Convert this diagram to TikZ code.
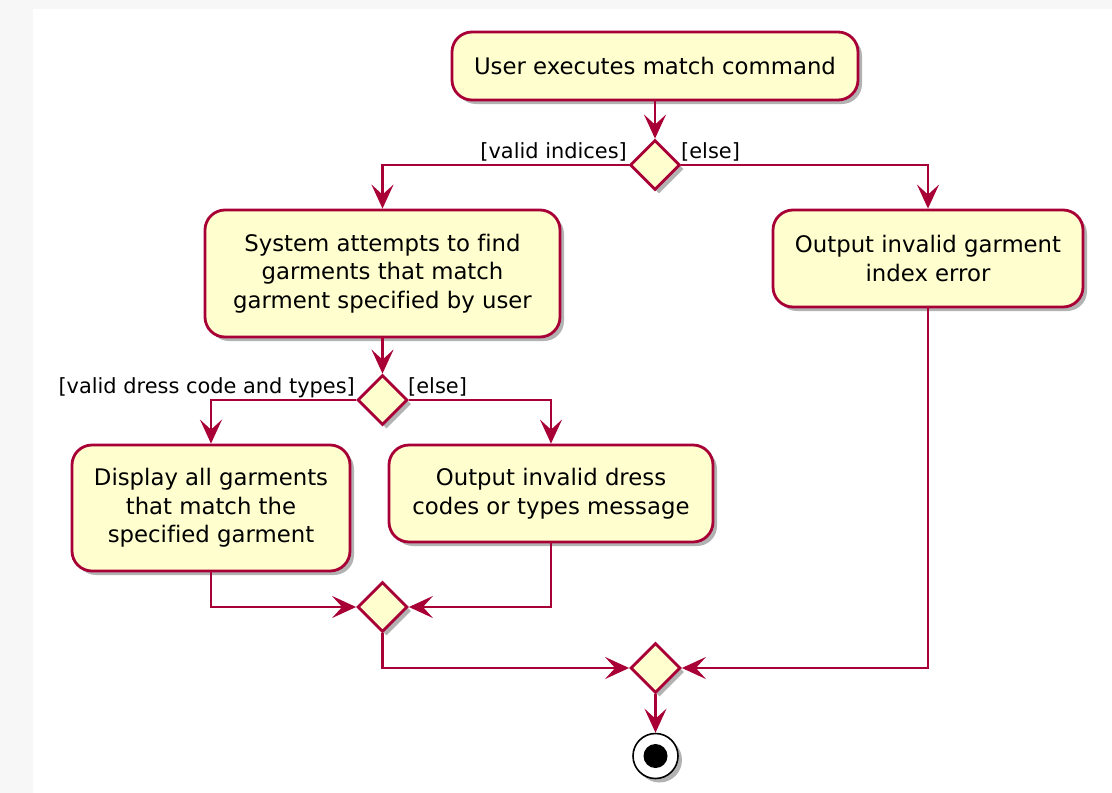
\documentclass[tikz,border=0pt]{standalone}
\usepackage{fontspec}
\setmainfont[Ligatures=NoCommon]{DejaVu Sans}
\usetikzlibrary{shapes.geometric,arrows.meta,shadows}
\definecolor{puborder}{HTML}{A80036}
\definecolor{pufill}{HTML}{FEFECE}
\definecolor{bggray}{RGB}{247,247,247}
\tikzset{
  shad/.style={drop shadow={shadow xshift=4pt,shadow yshift=-4pt,opacity=0.3,fill=black}},
  actbox/.style={draw=puborder,fill=pufill,line width=2.8pt,rounded corners=20pt,
    inner sep=0pt,align=center,font=\fontsize{22.8}{28.5}\selectfont,shad},
  decis/.style={draw=puborder,fill=pufill,line width=2.8pt,shape=diamond,aspect=1,
    inner sep=0pt,minimum width=50pt,minimum height=50pt,shad},
  arr/.style={draw=puborder,line width=2.5pt,-{Stealth[length=24pt,width=22pt,inset=10pt]}},
  lbl/.style={inner sep=0pt,font=\fontsize{20.9}{25}\selectfont}
}
\begin{document}
\begin{tikzpicture}[x=1pt,y=-1pt]
\useasboundingbox (0,0) rectangle (1112,793);
\fill[bggray] (0,0) rectangle (1112,793);
\fill[white] (33,9) rectangle (1112,793);

\node[actbox,minimum width=406pt,minimum height=68pt] (b1) at (655,66) {User executes match command};
\node[decis] (d1) at (655,165) {};
\node[actbox,minimum width=355pt,minimum height=127pt] (b2) at (382.5,273.5) {System attempts to find\\garments that match\\garment specified by user};
\node[actbox,minimum width=310pt,minimum height=97pt] (b3) at (928,258.5) {Output invalid garment\\index error};
\node[decis] (d2) at (382.5,400) {};
\node[actbox,minimum width=278pt,minimum height=126pt] (b4) at (211,508) {Display all garments\\that match the\\specified garment};
\node[actbox,minimum width=324pt,minimum height=97pt] (b5) at (551,493.5) {Output invalid dress\\codes or types message};
\node[decis] (d3) at (382.5,607) {};
\node[decis] (d4) at (655.5,668) {};
\node[circle,draw=black,fill=white,line width=1.6pt,minimum size=45pt,inner sep=0pt,shad] (end) at (655.5,756) {};
\node[circle,fill=black,minimum size=24pt,inner sep=0pt] (endin) at (655.5,756) {};

\node[lbl,anchor=base east] (l1) at (627,158) {[valid indices]};
\node[lbl,anchor=base west] (l2) at (681,158) {[else]};
\node[lbl,anchor=base east] (l3) at (355,393) {[valid dress code and types]};
\node[lbl,anchor=base west] (l4) at (408,393) {[else]};

\draw[arr] (b1) -- (d1);
\draw[arr] (d1.west) -| (b2);
\draw[arr] (d1.east) -| (b3);
\draw[arr] (b2) -- (d2);
\draw[arr] (d2.west) -| (b4);
\draw[arr] (d2.east) -| (b5);
\draw[arr] (b4) |- (d3);
\draw[arr] (b5) |- (d3);
\draw[arr] (d3) |- (d4);
\draw[arr] (b3) |- (d4);
\draw[arr] (d4) -- (end);
\end{tikzpicture}
\end{document}
